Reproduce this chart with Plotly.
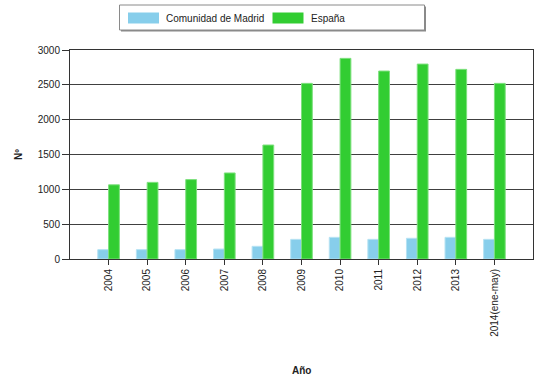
import plotly.graph_objects as go

# Datos: número anual, Comunidad de Madrid frente a España
years = ["2004", "2005", "2006", "2007", "2008", "2009", "2010",
         "2011", "2012", "2013", "2014(ene-may)"]
madrid = [134, 134, 134, 143, 182, 282, 311, 282, 297, 311, 282]
espana = [1065, 1100, 1140, 1235, 1636, 2521, 2880, 2698, 2798, 2722, 2521]

series_names = ["Comunidad de Madrid", "España"]
colors = ["#87CEEB", "#32CD32"]
edge_colors = ["#B5E2F3", "#7EE07E"]

W, H = 534, 379
L, R, T, B = 70, 1, 50, 120
pw, ph = W - L - R, H - T - B

FONT = "Liberation Sans, Arial, sans-serif"
TXT = "#222222"

fig = go.Figure()
for name, vals, c, ec in zip(series_names, [madrid, espana], colors, edge_colors):
    fig.add_trace(go.Bar(
        x=list(range(len(years))), y=vals, name=name,
        marker=dict(color=c, line=dict(color=ec, width=1)),
        showlegend=False,
    ))

# pixel -> paper helpers for the framed legend above the plot
def px(x):
    return (x - L) / pw

def py(y):
    return (H - B - y) / ph

shapes = []
annotations = []
# legend frame with shadow
shapes.append(dict(type="rect", xref="paper", yref="paper",
                   x0=px(121), x1=px(426), y0=py(31.5), y1=py(6.5),
                   fillcolor="#8a8a8a", line=dict(width=0), layer="above"))
shapes.append(dict(type="rect", xref="paper", yref="paper",
                   x0=px(119.5), x1=px(424.5), y0=py(30), y1=py(5),
                   fillcolor="white", line=dict(color="#8a8a8a", width=1), layer="above"))
legend_items = [(128, 164), (272.5, 309)]
for (sx, tx), name, c in zip(legend_items, series_names, colors):
    shapes.append(dict(type="rect", xref="paper", yref="paper",
                       x0=px(sx), x1=px(sx + 31), y0=py(23.5), y1=py(12.5),
                       fillcolor=c, line=dict(width=0), layer="above"))
    annotations.append(dict(text=name, xref="paper", yref="paper",
                            x=px(tx), y=py(18), xanchor="left", yanchor="middle",
                            showarrow=False,
                            font=dict(family=FONT, size=10, color=TXT)))

# axis titles
annotations.append(dict(text="<b>Nº</b>", xref="paper", yref="paper",
                        x=px(18), y=py(155), xanchor="center", yanchor="middle",
                        textangle=-90, showarrow=False,
                        font=dict(family=FONT, size=10, color=TXT)))
annotations.append(dict(text="<b>Año</b>", xref="paper", yref="paper",
                        x=px(301), y=py(370), xanchor="center", yanchor="middle",
                        showarrow=False,
                        font=dict(family=FONT, size=10, color=TXT)))

fig.update_layout(
    width=W, height=H,
    margin=dict(l=L, r=R, t=T, b=B),
    paper_bgcolor="white", plot_bgcolor="white",
    barmode="group", bargap=0.44, bargroupgap=0,
    shapes=shapes, annotations=annotations,
    font=dict(family=FONT, size=10, color=TXT),
)
fig.update_xaxes(
    tickmode="array", tickvals=list(range(len(years))), ticktext=years,
    range=[-1, len(years)], tickangle=-90,
    showline=True, linecolor="#333333", linewidth=1, mirror=True,
    ticks="outside", ticklen=5, tickcolor="#333333",
    showgrid=False, zeroline=False,
    tickfont=dict(family=FONT, size=10, color=TXT),
)
fig.update_yaxes(
    range=[0, 3000], dtick=500,
    showline=True, linecolor="#333333", linewidth=1, mirror=True,
    ticks="outside", ticklen=7, tickcolor="#333333",
    showgrid=True, gridcolor="#404040", gridwidth=1, zeroline=False,
    tickfont=dict(family=FONT, size=10, color=TXT),
)

fig.write_html("out.html")
